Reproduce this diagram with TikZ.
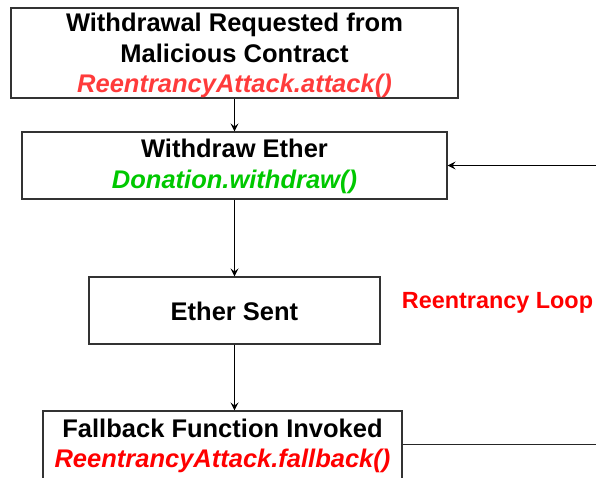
\documentclass[tikz,border=0pt]{standalone}
\usepackage{fontspec}
\setmainfont{Liberation Sans}
\usetikzlibrary{arrows.meta}

\definecolor{callred}{HTML}{FF3B3B}
\definecolor{fbred}{HTML}{FF0000}
\definecolor{callgreen}{HTML}{00C800}

\tikzset{
  stepbox/.style={draw=black!80, line width=1.1pt, fill=none, inner sep=0pt},
  steptext/.style={anchor=base, inner sep=0pt, font=\fontsize{25.5}{30}\selectfont\bfseries},
  calltext/.style={steptext, font=\fontsize{25.5}{30}\selectfont\bfseries\itshape},
  flow/.style={draw=black, line width=0.9pt, -{Stealth[length=8pt,width=8pt,inset=3pt]}},
  plainline/.style={draw=black!85, line width=0.9pt},
}

\begin{document}
\begin{tikzpicture}[x=1pt,y=-1pt]
\useasboundingbox (0,0) rectangle (596,477);

% process boxes
\node[stepbox, minimum width=447pt, minimum height=90pt] (b1) at (234.5,53) {};
\node[stepbox, minimum width=425pt, minimum height=67pt] (b2) at (234.5,165.5) {};
\node[stepbox, minimum width=291pt, minimum height=67pt] (b3) at (234.5,310.5) {};
\node[stepbox, minimum width=359pt, minimum height=70pt] (b4) at (222.5,446) {};

% box captions
\node[steptext] (t1a) at (234.5,31) {Withdrawal Requested from};
\node[steptext] (t1b) at (234.5,62) {Malicious Contract};
\node[calltext, text=callred] (t1c) at (234.5,92) {ReentrancyAttack.attack()};

\node[steptext] (t2a) at (234.5,157) {Withdraw Ether};
\node[calltext, text=callgreen] (t2b) at (234.5,188) {Donation.withdraw()};

\node[steptext] (t3a) at (234.5,320) {Ether Sent};

\node[steptext] (t4a) at (222.5,437) {Fallback Function Invoked};
\node[calltext, text=fbred] (t4b) at (222.5,467) {ReentrancyAttack.fallback()};

% loop label
\node[anchor=base, inner sep=0pt, text=fbred,
      font=\fontsize{23.4}{27}\selectfont\bfseries] (loop) at (497.5,308) {Reentrancy Loop};

% connectors
\coordinate (loopin) at (596,165.5);
\coordinate (loopout) at (596,444);

\draw[flow] (b1.south) -- (b2.north);
\draw[flow] (b2.south) -- (b3.north);
\draw[flow] (b3.south) -- (b3.south |- b4.north);
\draw[flow] (loopin) -- (b2.east);
\draw[plainline] (b4.east |- loopout) -- (loopout);
\end{tikzpicture}
\end{document}
